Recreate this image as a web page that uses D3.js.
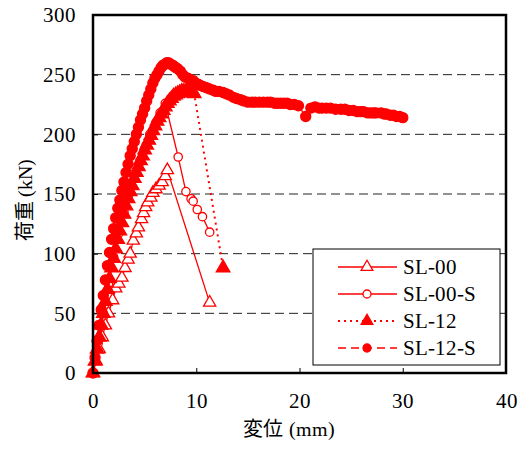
<!DOCTYPE html>
<html>
<head>
<meta charset="utf-8">
<script src="https://cdn.jsdelivr.net/npm/d3@7"></script>
<style>
  @font-face { font-family: "ChartSerif"; src: local("Liberation Serif"), local("LiberationSerif"), local("Liberation Serif Regular"), local("LiberationSerif-Regular"); }
</style>
</head>
<body style="margin:0; background:#fff">
<svg id="chart" width="517" height="450"></svg>
<script>
// datos: desplazamiento (mm) y carga (kN)
var sl00_x = [0, 0.3, 0.6, 0.9, 1.2, 1.5, 1.9, 2.2, 2.5, 2.8, 3.1, 3.4, 3.6, 3.9, 4.2, 4.4, 4.7, 4.9, 5.1, 5.3, 5.6, 5.8, 6.1, 6.4, 6.7, 7.0, 7.2, 11.3];
var sl00_y = [0, 10, 20, 30, 40, 50, 61, 71, 75, 80, 88, 95, 100, 111, 117, 122, 129, 134, 139, 143, 147, 151, 154, 157, 160, 165, 170, 59];

var sl00s_x = [0, 0.5, 1.0, 1.5, 2.0, 2.5, 3.0, 3.5, 4.0, 4.5, 5.0, 5.5, 6.1, 6.5, 7.0, 8.25, 9.0, 9.5, 9.7, 10.1, 10.6, 11.3];
var sl00s_y = [0, 25, 50, 75, 97, 117, 135, 150, 163, 176, 188, 200, 210, 218, 226, 181, 152, 146, 144, 137, 131, 118];

var sl12_x = [0, 0.2, 0.4, 0.6, 0.8, 1.0, 1.2, 1.4, 1.6, 1.8, 2.0, 2.2, 2.4, 2.6, 2.8, 3.0, 3.2, 3.4, 3.6, 3.8, 4.0, 4.2, 4.4, 4.6, 4.8, 5.0, 5.2, 5.4, 5.6, 5.8, 6.0, 6.2, 6.4, 6.6, 6.8, 7.0, 7.2, 7.4, 7.6, 7.8, 8.0, 8.2, 8.4, 8.6, 8.8, 9.0, 9.2, 9.4, 9.6, 9.8, 12.6];
var sl12_y = [0, 10, 20, 30, 40, 50, 60, 70, 79, 88, 96, 104, 112, 119, 126, 133, 140, 146, 152, 157, 163, 168, 173, 178, 182, 187, 191, 195, 199, 203, 207, 211, 214, 217, 220, 223, 226, 228, 230, 232, 233, 234, 235, 236, 236, 236, 236, 235, 235, 234, 88];

var sl12s_x = [0, 0.2, 0.4, 0.6, 0.8, 1.0, 1.2, 1.4, 1.6, 1.8, 2.0, 2.2, 2.4, 2.6, 2.8, 3.0, 3.2, 3.4, 3.6, 3.8, 4.0, 4.2, 4.4, 4.6, 4.8, 5.0, 5.2, 5.4, 5.6, 5.8, 6.0, 6.2, 6.4, 6.6, 6.8, 7.0, 7.15, 7.3, 7.5, 7.7, 7.85, 8.0, 8.2, 8.45, 8.7, 8.9, 9.2, 9.4, 9.7, 9.9, 10.2, 10.4, 10.7, 11.0, 11.3, 11.65, 11.9, 12.2, 12.6, 12.9, 13.2, 13.6, 13.9, 14.3, 14.6, 15.0, 15.4, 15.7, 16.1, 16.5, 16.9, 17.2, 17.6, 17.9, 18.2, 18.5, 18.8, 19.1, 19.5, 19.9, 20.6, 21.1, 21.5, 21.9, 22.2, 22.6, 23.0, 23.5, 24.0, 24.4, 24.8, 25.2, 25.6, 25.9, 26.2, 26.6, 26.9, 27.2, 27.4, 27.9, 28.2, 28.4, 28.8, 29.1, 29.4, 29.7, 30.0];
var sl12s_y = [0, 13, 27, 40, 53, 65, 78, 90, 101, 112, 121, 130, 138, 145, 153, 160, 168, 175, 182, 188, 194, 200, 206, 212, 217, 222, 228, 233, 238, 243, 247, 250, 253, 256, 258, 259, 260, 260, 259, 258, 257, 256, 255, 253, 250, 248, 247, 246, 245, 243, 242, 241, 240, 239, 238, 237, 236, 236, 235, 234, 233, 231, 230, 229, 228, 227, 227, 227, 227, 227, 227, 227, 226, 226, 226, 226, 226, 225, 225, 224, 215, 222, 223, 222, 222, 222, 222, 221, 221, 221, 220, 220, 219, 219, 219, 218, 218, 218, 218, 218, 217, 217, 216, 216, 215, 215, 214];

var xTicks = [0, 10, 20, 30, 40];
var yTicks = [0, 50, 100, 150, 200, 250, 300];
var gridVals = [50, 100, 150, 200, 250];

var series = [
  {name: "SL-00",   xs: sl00_x,  ys: sl00_y,  marker: "tri",    fill: false, dash: null},
  {name: "SL-00-S", xs: sl00s_x, ys: sl00s_y, marker: "circle", fill: false, dash: null},
  {name: "SL-12",   xs: sl12_x,  ys: sl12_y,  marker: "tri",    fill: true,  dash: "2,4"},
  {name: "SL-12-S", xs: sl12s_x, ys: sl12s_y, marker: "circle", fill: true,  dash: "8,5"}
];

var serif = "ChartSerif, Liberation Serif, serif";
var cjk = "Noto Sans CJK JP";

var svg = d3.select("#chart"),
    margin = {top: 15, right: 11, bottom: 77, left: 93},
    width = 517 - margin.left - margin.right,
    height = 450 - margin.top - margin.bottom,
    g = svg.append("g").attr("transform", "translate(" + margin.left + "," + margin.top + ")");

var x = d3.scaleLinear().domain([0, 40]).range([0, width]);
var y = d3.scaleLinear().domain([0, 300]).range([height, 0]);

// lineas de cuadricula discontinuas
g.selectAll(".grid")
  .data(gridVals)
  .enter().append("line")
    .attr("x1", 0).attr("x2", width)
    .attr("y1", function(d) { return y(d); })
    .attr("y2", function(d) { return y(d); })
    .attr("stroke", "#222")
    .attr("stroke-width", 1)
    .attr("stroke-dasharray", "9,5");

// ejes con marcas hacia dentro
var xAxis = g.append("g")
  .attr("transform", "translate(0," + height + ")")
  .call(d3.axisBottom(x).tickValues(xTicks).tickSize(-5).tickPadding(20));
var yAxis = g.append("g")
  .call(d3.axisLeft(y).tickValues(yTicks).tickSize(-5).tickPadding(17));
[xAxis, yAxis].forEach(function(a) {
  a.attr("font-family", null).attr("font-size", null);
  a.select(".domain").remove();
  a.selectAll("line").attr("stroke", "#000").attr("stroke-width", 1);
  a.selectAll("text").attr("fill", "#000").style("font-family", serif).style("font-size", "21px");
});

var line = d3.line();

function markerPath(type, size) {
  return d3.symbol().type(type === "tri" ? d3.symbolTriangle : d3.symbolCircle).size(size)();
}

series.forEach(function(s) {
  var pts = s.xs.map(function(v, i) { return [x(v), y(s.ys[i])]; });
  g.append("path")
    .attr("d", line(pts))
    .attr("fill", "none")
    .attr("stroke", "red")
    .attr("stroke-width", s.dash === "2,4" ? 2 : 1.3)
    .attr("stroke-dasharray", s.dash);
  g.selectAll(null)
    .data(pts)
    .enter().append("path")
      .attr("transform", function(d) { return "translate(" + d[0] + "," + d[1] + ")"; })
      .attr("d", markerPath(s.marker, s.marker === "tri" ? (s.fill ? 80 : 65) : (s.fill ? 80 : 55)))
      .attr("fill", s.fill ? "red" : "#fff")
      .attr("stroke", "red")
      .attr("stroke-width", 1.3);
});

// marco del grafico
g.append("rect")
  .attr("width", width).attr("height", height)
  .attr("fill", "none").attr("stroke", "#000").attr("stroke-width", 2.5);

// leyenda
var legend = g.append("g").attr("transform", "translate(" + (313 - margin.left) + "," + (249 - margin.top) + ")");
legend.append("rect")
  .attr("width", 187).attr("height", 116)
  .attr("fill", "#fff").attr("stroke", "#000").attr("stroke-width", 1);
var item = legend.selectAll(".item")
  .data(series)
  .enter().append("g")
    .attr("transform", function(d, i) { return "translate(0," + (18 + i * 27) + ")"; });
item.append("line")
  .attr("x1", 25).attr("x2", 84)
  .attr("stroke", "red")
  .attr("stroke-width", function(d) { return d.dash === "2,4" ? 2 : 1.3; })
  .attr("stroke-dasharray", function(d) { return d.dash; });
item.append("path")
  .attr("transform", "translate(54,0)")
  .attr("d", function(d) { return markerPath(d.marker, d.marker === "tri" ? 60 : 50); })
  .attr("fill", function(d) { return d.fill ? "red" : "#fff"; })
  .attr("stroke", "red")
  .attr("stroke-width", 1.3);
item.append("text")
  .attr("x", 90)
  .attr("dy", "0.35em")
  .style("font-family", serif)
  .style("font-size", "21px")
  .text(function(d) { return d.name; });

// titulos de ejes: parte japonesa y parte latina en textos separados
svg.append("text")
  .attr("x", 283).attr("y", 436)
  .attr("text-anchor", "end")
  .style("font-family", cjk)
  .style("font-size", "20px")
  .text("変位");
svg.append("text")
  .attr("x", 289).attr("y", 436)
  .style("font-family", serif)
  .style("font-size", "20px")
  .text("(mm)");

svg.append("text")
  .attr("transform", "translate(32,241) rotate(-90)")
  .style("font-family", cjk)
  .style("font-size", "20px")
  .text("荷重");
svg.append("text")
  .attr("transform", "translate(32,197) rotate(-90)")
  .style("font-family", serif)
  .style("font-size", "20px")
  .text("(kN)");
</script>
</body>
</html>
